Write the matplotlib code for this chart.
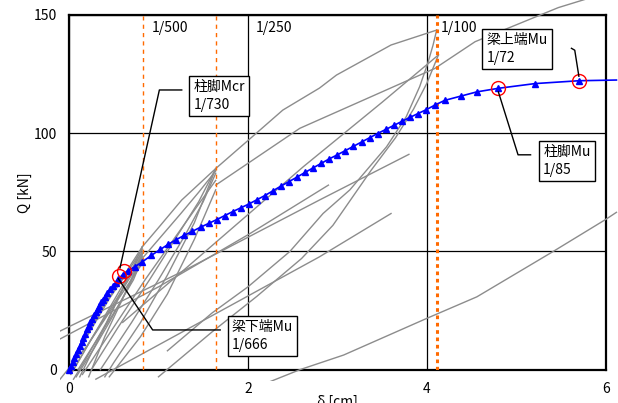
import matplotlib
matplotlib.use("Agg")
import matplotlib.pyplot as plt
from matplotlib.patches import Rectangle

plt.rcParams['font.family'] = ['Noto Sans CJK JP', 'DejaVu Sans']
plt.rcParams['font.size'] = 10

# analysis curve (blue), delta [cm] / Q [kN]
blue_x = [0.00, 0.02, 0.04, 0.06, 0.08, 0.10, 0.12, 0.14, 0.16, 0.18, 0.20, 0.22, 0.24,
          0.26, 0.28, 0.30, 0.32, 0.34, 0.36, 0.38, 0.40, 0.43, 0.46, 0.49, 0.52, 0.55,
          0.60, 0.66, 0.74, 0.82, 0.92, 1.02, 1.11, 1.20, 1.29, 1.38, 1.47, 1.56, 1.65,
          1.74, 1.83, 1.92, 2.01, 2.10, 2.19, 2.28, 2.37, 2.46, 2.55, 2.64, 2.73, 2.82,
          2.91, 3.00, 3.09, 3.18, 3.27, 3.36, 3.45, 3.54, 3.63, 3.72, 3.81, 3.90, 3.99,
          4.09, 4.20, 4.38, 4.56, 4.80, 5.21, 5.70, 6.12]
blue_q = [0.0, 1.7, 3.4, 5.1, 6.8, 8.5, 10.2, 11.9, 13.6, 15.3, 17.0, 18.6, 20.1,
          21.6, 23.1, 24.5, 25.8, 27.1, 28.4, 29.6, 30.8, 32.5, 34.0, 35.4, 36.8, 38.3,
          40.2, 41.9, 43.6, 45.6, 48.3, 50.8, 53.0, 55.0, 56.8, 58.5, 60.2, 61.8, 63.4,
          65.1, 66.8, 68.4, 70.0, 71.8, 73.6, 75.6, 77.6, 79.5, 81.4, 83.4, 85.3, 87.2,
          89.1, 90.8, 92.6, 94.4, 96.2, 98.0, 99.8, 101.5, 103.2, 104.9, 106.6, 108.2, 109.8,
          111.8, 113.8, 115.6, 117.4, 118.9, 120.9, 122.1, 122.4]

# test loops (gray), each line as (x list, q list)
loops_500 = [
    ([0.00, 0.20, 0.45, 0.65, 0.82], [0, 14, 30, 41, 51]),
    ([0.05, 0.25, 0.50, 0.70, 0.82], [0, 13, 28, 40, 49]),
    ([0.10, 0.30, 0.55, 0.72, 0.82], [0, 12, 27, 38, 47]),
    ([0.00, 0.15, 0.35, 0.60, 0.82], [0, 12, 25, 39, 52]),
    ([0.02, 0.22, 0.42, 0.62, 0.82], [-2, 11, 24, 37, 50]),
    ([0.08, 0.28, 0.48, 0.68, 0.82], [-3, 9, 22, 36, 48]),
    ([0.82, 0.65, 0.45, 0.25, 0.12], [52, 38, 22, 7, -3]),
    ([0.82, 0.60, 0.40, 0.22], [49, 30, 14, -3]),
    ([0.82, 0.62, 0.42, 0.18, 0.05], [50, 36, 20, 4, -4]),
    ([-0.10, 0.20, 0.50, 0.82], [-4, 10, 27, 45]),
]
loops_250 = [
    ([0.25, 0.55, 0.90, 1.20, 1.45, 1.64], [0, 18, 38, 56, 71, 85]),
    ([0.35, 0.70, 1.00, 1.30, 1.50, 1.64], [0, 20, 38, 57, 71, 83]),
    ([0.15, 0.50, 0.85, 1.15, 1.45, 1.64], [-2, 18, 38, 54, 70, 80]),
    ([0.75, 1.00, 1.25, 1.45, 1.64], [44, 55, 66, 75, 84]),
    ([1.64, 1.40, 1.10, 0.80, 0.50, 0.40], [85, 62, 40, 20, 3, -3]),
    ([0.45, 0.80, 1.10, 1.40, 1.64], [-3, 14, 32, 55, 76]),
]
env_a = ([0.82, 1.00, 1.26, 1.64, 1.99, 2.39, 2.80, 2.99, 3.60, 4.11],
         [52, 60, 71.7, 85, 96.5, 109.7, 119, 124.5, 137.2, 143.5])
env_c = ([1.64, 2.58, 4.09, 4.54, 5.47, 5.90], [78, 102, 127.3, 138.6, 153, 158])
env_e = ([0.60, 1.24, 2.62, 3.50, 4.13], [20, 40.7, 85.8, 113, 133])
load_1 = ([1.10, 1.60, 2.00, 2.47, 2.84, 3.14, 3.55, 3.77, 3.92, 4.01, 4.07, 4.11],
          [8, 24, 35, 50, 66, 76, 94.2, 106.9, 119.6, 129.4, 137.2, 143.5])
load_2 = ([1.00, 1.60, 2.10, 2.60, 2.95, 3.38, 3.65, 3.85, 4.00, 4.13],
          [-3, 16, 31, 47, 61, 84.4, 98, 110, 121, 133])
side_1 = ([-0.20, 1.24, 2.80, 3.80], [14.5, 41, 71.7, 91])
side_2 = ([-0.20, 1.00, 2.00, 2.90], [11, 35, 57, 78])
side_3 = ([0.30, 1.24, 2.80, 3.60], [-4, 15.4, 47.7, 66])
far_d = ([2.25, 2.58, 3.07, 4.00, 4.56, 5.41, 6.00, 6.12],
         [-5, 0, 6.2, 21.7, 30.8, 49.9, 63.5, 66.5])

drift_x = [0.822, 1.644, 4.11]
drift_labels = ['1/500', '1/250', '1/100']
drift_label_x = [0.93, 2.09, 4.16]

# marked points and labels
mark_x = [0.563, 0.612, 4.80, 5.70]
mark_q = [39.8, 41.6, 118.9, 122.1]
box_texts = ['柱脚Mcr\n1/730', '梁下端Mu\n1/666', '柱脚Mu\n1/85', '梁上端Mu\n1/72']
box_x = [1.39, 1.82, 5.30, 4.667]
box_q = [115.5, 14.4, 88.3, 135.5]
leader_x = [[1.26, 1.01, 0.57], [1.69, 0.935, 0.55], [5.16, 5.02, 4.80], [5.617, 5.654, 5.70]]
leader_q = [[118.2, 118.2, 43.0], [16.8, 16.8, 38.5], [90.8, 90.8, 117.4], [135.8, 135.0, 124.0]]

fig = plt.figure(figsize=(6.18, 4.03), dpi=100)
ax = fig.add_axes([0.1117, 0.0826, 0.8684, 0.8809])

clip = Rectangle((-0.016, -0.032), 1.04, 1.09, transform=ax.transAxes)

gray_lines = loops_500 + loops_250 + [env_a, env_c, env_e, load_1, load_2,
                                      side_1, side_2, side_3, far_d]
for gx, gq in gray_lines:
    ln, = ax.plot(gx, gq, color='#8c8c8c', lw=1.0, zorder=3)
    ln.set_clip_path(clip)

for i, dx in enumerate(drift_x):
    if i < 2:
        ax.axvline(dx, color='#ff6a00', lw=1.0, ls=(0, (3, 3)), zorder=4)
    else:
        ax.axvline(dx, color='#ff6a00', lw=2.2, ls=(0, (1.2, 1.2)), zorder=4)
    ax.text(drift_label_x[i], 144.5, drift_labels[i], ha='left', va='center', zorder=6)

bl, = ax.plot(blue_x, blue_q, color='#0000ff', lw=1.2, marker='^', ms=5,
              markevery=slice(0, len(blue_x) - 1), zorder=5)
bl.set_clip_path(clip)

ax.plot(mark_x, mark_q, ls='none', marker='o', ms=10, mfc='none', mec='red',
        mew=1.0, zorder=6)

for i in range(len(box_texts)):
    ax.plot(leader_x[i], leader_q[i], color='black', lw=1.0, zorder=7, clip_on=False)
    ax.text(box_x[i], box_q[i], box_texts[i], ha='left', va='center', zorder=8,
            linespacing=1.35,
            bbox=dict(boxstyle='square,pad=0.3', fc='white', ec='black', lw=1.0))

ax.set_xlim(0, 6)
ax.set_ylim(0, 150)
ax.set_xticks([0, 2, 4, 6])
ax.set_yticks([0, 50, 100, 150])
ax.grid(True, color='black', lw=0.9)
ax.set_axisbelow(True)
ax.tick_params(length=0, pad=8.5, labelsize=10)
for sp in ax.spines.values():
    sp.set_linewidth(1.6)

ax.set_ylabel('Q [kN]')
ax.yaxis.set_label_coords(-0.069, 0.5)
ax.set_xlabel('δ [cm]')
ax.xaxis.set_label_coords(0.5, -0.072)

fig.savefig('out.png', dpi=100)
